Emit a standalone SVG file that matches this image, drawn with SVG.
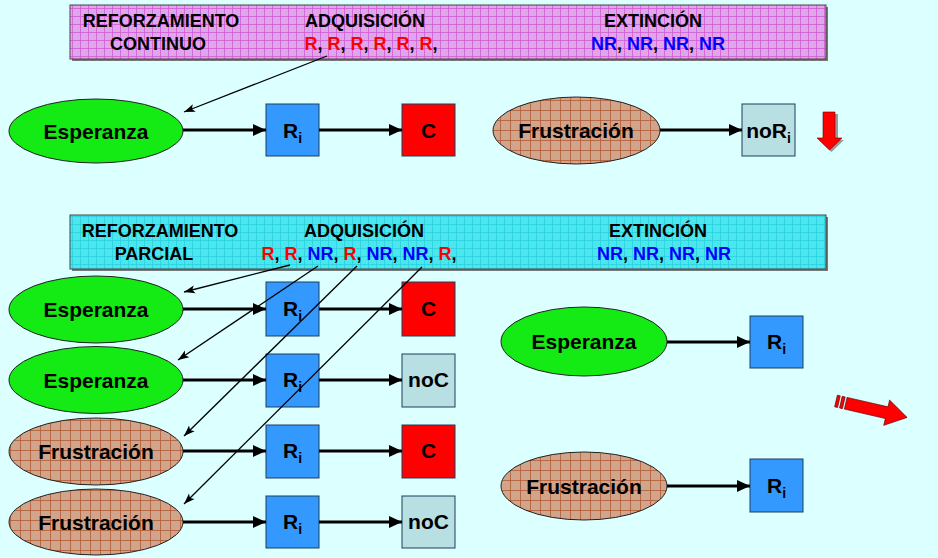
<svg xmlns="http://www.w3.org/2000/svg" width="938" height="558" viewBox="0 0 938 558">
<defs>
<style>
.t{font-family:"Liberation Sans",Arial,sans-serif;font-weight:bold;fill:#000}
.bn{font-size:18px}
.nd{font-size:21px;text-anchor:middle}
.r{fill:#ff0000}
.b{fill:#0000ff}
.thick{stroke:#000;stroke-width:3.2;fill:none}
.thin{stroke:#000;stroke-width:1.3;fill:none}
.rect{stroke:#1f3f5f;stroke-width:1}
.ell{stroke:#222;stroke-width:1}
.blue{fill:#3399ff}
.red{fill:#ff0000}
.grey{fill:#b8dfe1}
.green{fill:#14ea14}
.brown{fill:url(#brownPat)}
</style>
<pattern id="magPat" width="8" height="8" patternUnits="userSpaceOnUse">
<rect width="8" height="8" fill="#e0a6ea"/>
<path d="M0,0.5H8M0.5,0V8" stroke="#cf5ad4" stroke-width="0.8"/>
</pattern>
<pattern id="cyanPat" width="8" height="8" patternUnits="userSpaceOnUse">
<rect width="8" height="8" fill="#4ce6ee"/>
<path d="M0,0.5H8M0.5,0V8" stroke="#2ad0dd" stroke-width="0.8"/>
</pattern>
<pattern id="brownPat" width="10" height="10" patternUnits="userSpaceOnUse">
<rect width="10" height="10" fill="#d0a58c"/>
<path d="M0,0.5H10M0.5,0V10" stroke="#b25a34" stroke-width="0.8"/>
</pattern>
<marker id="ah" markerUnits="userSpaceOnUse" markerWidth="14" markerHeight="14" refX="13" refY="7" orient="auto">
<path d="M0,1 L13,7 L0,13 z" fill="#000"/>
</marker>
<marker id="as" markerUnits="userSpaceOnUse" markerWidth="12" markerHeight="10" refX="11" refY="5" orient="auto">
<path d="M0,1 L11,5 L0,9 L2.5,5 z" fill="#000"/>
</marker>
</defs>
<rect width="938" height="558" fill="#dcffff"/>

<g id="banner-continuo">
<rect x="72" y="7" width="756" height="54" fill="#777"/>
<rect x="70" y="5" width="756" height="54" fill="url(#magPat)" stroke="#444" stroke-width="1"/>
<text class="t bn" x="161" y="27" text-anchor="middle">REFORZAMIENTO</text>
<text class="t bn" x="158" y="50" text-anchor="middle">CONTINUO</text>
<text class="t bn" x="365" y="27" text-anchor="middle">ADQUISICIÓN</text>
<text class="t bn" x="371" y="50" text-anchor="middle"><tspan class="r">R</tspan>, <tspan class="r">R</tspan>, <tspan class="r">R</tspan>, <tspan class="r">R</tspan>, <tspan class="r">R</tspan>, <tspan class="r">R</tspan>,</text>
<text class="t bn" x="653" y="27" text-anchor="middle">EXTINCIÓN</text>
<text class="t bn" x="658" y="50" text-anchor="middle"><tspan class="b">NR</tspan>, <tspan class="b">NR</tspan>, <tspan class="b">NR</tspan>, <tspan class="b">NR</tspan></text>
</g>

<g id="banner-parcial">
<rect x="72" y="217" width="756" height="54" fill="#777"/>
<rect x="70" y="215" width="756" height="54" fill="url(#cyanPat)" stroke="#444" stroke-width="1"/>
<text class="t bn" x="160" y="237" text-anchor="middle">REFORZAMIENTO</text>
<text class="t bn" x="154" y="260" text-anchor="middle">PARCIAL</text>
<text class="t bn" x="364" y="237" text-anchor="middle">ADQUISICIÓN</text>
<text class="t bn" x="359" y="260" text-anchor="middle"><tspan class="r">R</tspan>, <tspan class="r">R</tspan>, <tspan class="b">NR</tspan>, <tspan class="r">R</tspan>, <tspan class="b">NR</tspan>, <tspan class="b">NR</tspan>, <tspan class="r">R</tspan>,</text>
<text class="t bn" x="658" y="237" text-anchor="middle">EXTINCIÓN</text>
<text class="t bn" x="664" y="260" text-anchor="middle"><tspan class="b">NR</tspan>, <tspan class="b">NR</tspan>, <tspan class="b">NR</tspan>, <tspan class="b">NR</tspan></text>
</g>

<!-- top row -->
<g id="esp-top"><ellipse class="ell green" cx="96" cy="131" rx="87" ry="32"/><text class="t nd" x="96" y="138.5">Esperanza</text></g>
<g id="ri-top"><rect class="rect blue" x="266" y="104" width="53" height="52"/><text class="t nd" x="292.5" y="138">R<tspan font-size="14" dy="5">i</tspan></text></g>
<g id="c-top"><rect class="rect red" x="402" y="104" width="53" height="52"/><text class="t nd" x="428.5" y="138">C</text></g>
<g id="frus-top"><ellipse class="ell brown" cx="576.5" cy="130.5" rx="83.5" ry="33.5"/><text class="t nd" x="576" y="138">Frustración</text></g>
<g id="nori-top"><rect class="rect grey" x="742" y="104" width="53" height="52"/><text class="t nd" x="768.5" y="138">noR<tspan font-size="14" dy="5">i</tspan></text></g>
<g id="down-arrow"><path d="M826,114 h12 v26 h6 l-12.5,12 l-12.5,-12 h7 z" fill="#999"/><path d="M823,112 h12 v26 h7 l-12.5,12 l-12.5,-12 h6 z" fill="#ff0000" stroke="#600" stroke-width="0.6"/></g>

<!-- partial rows -->
<g id="esp-1"><ellipse class="ell green" cx="96" cy="309.5" rx="87" ry="33.5"/><text class="t nd" x="96" y="317">Esperanza</text></g>
<g id="ri-1"><rect class="rect blue" x="266" y="282" width="53" height="54"/><text class="t nd" x="292.5" y="316">R<tspan font-size="14" dy="5">i</tspan></text></g>
<g id="c-1"><rect class="rect red" x="402" y="282" width="53" height="54"/><text class="t nd" x="428.5" y="316">C</text></g>

<g id="esp-2"><ellipse class="ell green" cx="96" cy="380" rx="87" ry="33.5"/><text class="t nd" x="96" y="387.5">Esperanza</text></g>
<g id="ri-2"><rect class="rect blue" x="266" y="354" width="53" height="53"/><text class="t nd" x="292.5" y="387">R<tspan font-size="14" dy="5">i</tspan></text></g>
<g id="noc-2"><rect class="rect grey" x="402" y="354" width="53" height="53"/><text class="t nd" x="428.5" y="387">noC</text></g>

<g id="frus-3"><ellipse class="ell brown" cx="96" cy="451.5" rx="87" ry="33.5"/><text class="t nd" x="96" y="459">Frustración</text></g>
<g id="ri-3"><rect class="rect blue" x="266" y="425" width="53" height="53"/><text class="t nd" x="292.5" y="458">R<tspan font-size="14" dy="5">i</tspan></text></g>
<g id="c-3"><rect class="rect red" x="402" y="425" width="53" height="53"/><text class="t nd" x="428.5" y="458">C</text></g>

<g id="frus-4"><ellipse class="ell brown" cx="96" cy="522" rx="87" ry="33"/><text class="t nd" x="96" y="529.5">Frustración</text></g>
<g id="ri-4"><rect class="rect blue" x="266" y="496" width="53" height="52"/><text class="t nd" x="292.5" y="529">R<tspan font-size="14" dy="5">i</tspan></text></g>
<g id="noc-4"><rect class="rect grey" x="402" y="496" width="53" height="52"/><text class="t nd" x="428.5" y="529">noC</text></g>

<!-- right side -->
<g id="esp-r"><ellipse class="ell green" cx="584" cy="341.5" rx="83" ry="34.5"/><text class="t nd" x="584" y="349">Esperanza</text></g>
<g id="ri-r1"><rect class="rect blue" x="750" y="316" width="53" height="52"/><text class="t nd" x="776.5" y="349">R<tspan font-size="14" dy="5">i</tspan></text></g>
<g id="frus-r"><ellipse class="ell brown" cx="584" cy="486" rx="83" ry="34"/><text class="t nd" x="584" y="494">Frustración</text></g>
<g id="ri-r2"><rect class="rect blue" x="750" y="459" width="53" height="53"/><text class="t nd" x="776.5" y="493">R<tspan font-size="14" dy="5">i</tspan></text></g>
<g id="diag-arrow" transform="translate(836,401) rotate(13)">
<path d="M0,-6 h3 v12 h-3 z M5,-6 h3 v12 h-3 z M10,-6 H52 V-13 L73,0 L52,13 V6 H10 z" fill="#ff0000" stroke="#500" stroke-width="0.6"/>
</g>

<g id="connectors">
<line class="thick" x1="183" y1="130" x2="266" y2="130" marker-end="url(#ah)"/>
<line class="thick" x1="319" y1="130" x2="402" y2="130" marker-end="url(#ah)"/>
<line class="thick" x1="660" y1="130" x2="742" y2="130" marker-end="url(#ah)"/>

<line class="thick" x1="183" y1="309" x2="266" y2="309" marker-end="url(#ah)"/>
<line class="thick" x1="319" y1="309" x2="402" y2="309" marker-end="url(#ah)"/>
<line class="thick" x1="183" y1="380" x2="266" y2="380" marker-end="url(#ah)"/>
<line class="thick" x1="319" y1="380" x2="402" y2="380" marker-end="url(#ah)"/>
<line class="thick" x1="183" y1="451" x2="266" y2="451" marker-end="url(#ah)"/>
<line class="thick" x1="319" y1="451" x2="402" y2="451" marker-end="url(#ah)"/>
<line class="thick" x1="183" y1="522" x2="266" y2="522" marker-end="url(#ah)"/>
<line class="thick" x1="319" y1="522" x2="402" y2="522" marker-end="url(#ah)"/>

<line class="thick" x1="667" y1="342" x2="750" y2="342" marker-end="url(#ah)"/>
<line class="thick" x1="667" y1="486" x2="750" y2="486" marker-end="url(#ah)"/>

<line class="thin" x1="327" y1="56" x2="184" y2="112" marker-end="url(#as)"/>
<line class="thin" x1="290" y1="265" x2="184" y2="292" marker-end="url(#as)"/>
<line class="thin" x1="318" y1="266" x2="178" y2="360" marker-end="url(#as)"/>
<line class="thin" x1="357" y1="266" x2="184" y2="436" marker-end="url(#as)"/>
<line class="thin" x1="422" y1="267" x2="184" y2="504" marker-end="url(#as)"/>
</g>
</svg>
